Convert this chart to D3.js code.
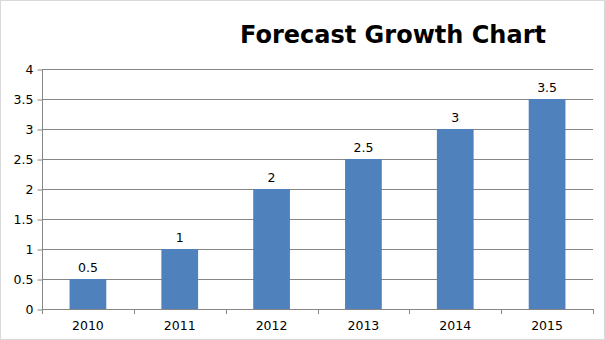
<!DOCTYPE html>
<html><head><meta charset="utf-8">
<script src="https://cdn.jsdelivr.net/npm/d3@7"></script>
<style>body{margin:0;background:#fff}svg{display:block}</style>
</head><body>
<script>
const categories = ["2010","2011","2012","2013","2014","2015"];
const values = [0.5, 1, 2, 2.5, 3, 3.5];
const yTicks = [0, 0.5, 1, 1.5, 2, 2.5, 3, 3.5, 4];
const title = "Forecast Growth Chart";

const W = 605, H = 340;
const m = {left: 42, right: 12, top: 69, bottom: 31};
const svg = d3.select("body").append("svg").attr("width", W).attr("height", H);
svg.append("rect").attr("x",0.5).attr("y",0.5).attr("width",W-1).attr("height",H-1)
  .attr("fill","#fff").attr("stroke","#d9d9d9");

const x = d3.scaleBand().domain(categories).range([m.left, W - m.right])
  .paddingInner(0.6).paddingOuter(0.3);
const y = d3.scaleLinear().domain([0,4]).range([H - m.bottom, m.top]);
const font = "DejaVu Sans, Verdana, sans-serif";
const fs = 12.5;

// gridlines
svg.append("g").selectAll("line").data(yTicks.filter(d=>d>0)).join("line")
  .attr("x1", m.left).attr("x2", W - m.right)
  .attr("y1", d=>Math.round(y(d))+0.5).attr("y2", d=>Math.round(y(d))+0.5)
  .attr("stroke","#868686").attr("stroke-width",1);

// bars
svg.append("g").selectAll("rect").data(values).join("rect")
  .attr("x",(d,i)=>x(categories[i])).attr("width",x.bandwidth())
  .attr("y",d=>y(d)).attr("height",d=>y(0)-y(d)).attr("fill","#4f81bd");

// labels
svg.append("g").selectAll("text").data(values).join("text")
  .attr("x",(d,i)=>x(categories[i])+x.bandwidth()/2).attr("y",d=>y(d)-7)
  .attr("text-anchor","middle").attr("font-family",font).attr("font-size",fs)
  .attr("fill","#000").text(d=>d);

// y axis
const yAxis = d3.axisLeft(y).tickValues(yTicks).tickSize(5).tickPadding(4).tickFormat(d=>d);
const gy = svg.append("g").attr("transform",`translate(${m.left+0.5},0.5)`).call(yAxis);
gy.select(".domain").attr("stroke","#868686").attr("d",`M0,${y(4)}V${y(0)}`);
gy.selectAll(".tick line").attr("stroke","#868686");
gy.selectAll("text").attr("font-family",font).attr("font-size",fs).attr("fill","#000");

// x axis
const step = x.step();
const bounds = d3.range(categories.length+1).map(i=>m.left + i*step);
const gx = svg.append("g");
gx.append("line").attr("x1",m.left).attr("x2",W-m.right)
  .attr("y1",Math.round(y(0))+0.5).attr("y2",Math.round(y(0))+0.5).attr("stroke","#868686");
gx.selectAll("line.t").data(bounds).join("line").attr("class","t")
  .attr("x1",d=>Math.round(d)+0.5).attr("x2",d=>Math.round(d)+0.5)
  .attr("y1",y(0)).attr("y2",y(0)+5).attr("stroke","#868686");
gx.selectAll("text").data(categories).join("text")
  .attr("x",d=>x(d)+x.bandwidth()/2).attr("y",y(0)+21)
  .attr("text-anchor","middle").attr("font-family",font).attr("font-size",fs)
  .attr("fill","#000").text(d=>d);

svg.append("text").attr("x",393).attr("y",43).attr("text-anchor","middle")
  .attr("font-family",font).attr("font-weight","bold").attr("font-size",24)
  .attr("fill","#000").text(title);
</script>
</body></html>
